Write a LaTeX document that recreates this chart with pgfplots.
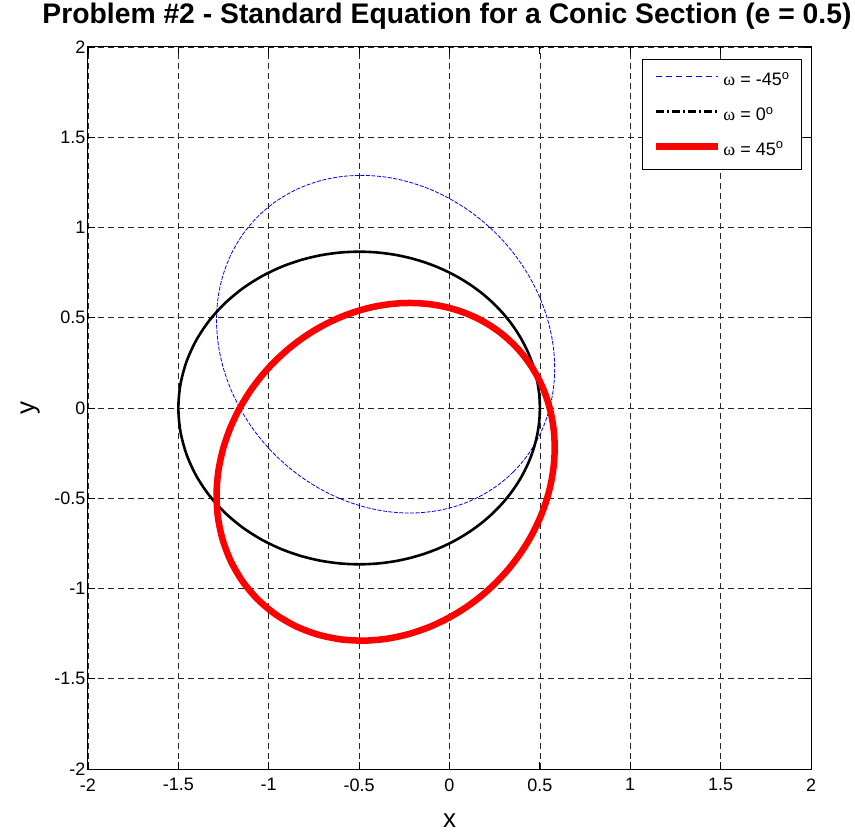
\documentclass[border=0pt]{standalone}
\usepackage{pgfplots}
\pgfplotsset{compat=1.18}
\usepackage{pgfplotstable}
\usepackage{fontspec}
\setmainfont{Liberation Sans}
\newfontfamily\greekserif{Liberation Serif}

% r = 0.75/(1 + 0.5 cos(theta)), sampled every 5 degrees
\pgfplotstableread{
x y
0.5 0
0.49873 0.043633
0.49491 0.087266
0.488511 0.130896
0.479485 0.174518
0.467763 0.218121
0.453254 0.261687
0.43585 0.305185
0.415419 0.348578
0.391806 0.391806
0.364835 0.434793
0.334307 0.47744
0.3 0.519615
0.261671 0.561154
0.219055 0.601848
0.171873 0.641437
0.119832 0.679601
0.062637 0.715946
0 0.75
-0.068346 0.781189
-0.142618 0.808832
-0.222968 0.832131
-0.309431 0.850155
-0.401886 0.861848
-0.5 0.866025
-0.603162 0.861405
-0.710414 0.846637
-0.820379 0.820379
-0.931205 0.781375
-1.040547 0.728599
-1.145561 0.66139
-1.243002 0.579621
-1.32937 0.483851
-1.401146 0.375436
-1.455106 0.256574
-1.488629 0.130239
-1.5 0
-1.488629 -0.130239
-1.455106 -0.256574
-1.401146 -0.375436
-1.32937 -0.483851
-1.243002 -0.579621
-1.145561 -0.66139
-1.040547 -0.728599
-0.931205 -0.781375
-0.820379 -0.820379
-0.710414 -0.846637
-0.603162 -0.861405
-0.5 -0.866025
-0.401886 -0.861848
-0.309431 -0.850155
-0.222968 -0.832131
-0.142618 -0.808832
-0.068346 -0.781189
0 -0.75
0.062637 -0.715946
0.119832 -0.679601
0.171873 -0.641437
0.219055 -0.601848
0.261671 -0.561154
0.3 -0.519615
0.334307 -0.47744
0.364835 -0.434793
0.391806 -0.391806
0.415419 -0.348578
0.43585 -0.305185
0.453254 -0.261687
0.467763 -0.218121
0.479485 -0.174518
0.488511 -0.130896
0.49491 -0.087266
0.49873 -0.043633
0.5 0
}\conicZero

% rotated by +45 degrees
\pgfplotstableread{
x y
0.353553 0.353553
0.321802 0.383509
0.288248 0.411661
0.252872 0.437987
0.215644 0.462451
0.176524 0.484994
0.135458 0.50554
0.092394 0.523991
0.047264 0.540228
0 0.554098
-0.049468 0.565423
-0.10121 0.573992
-0.155291 0.579556
-0.211766 0.581826
-0.270676 0.580467
-0.332032 0.575098
-0.395817 0.565285
-0.46196 0.550542
-0.53033 0.53033
-0.600712 0.504057
-0.672777 0.471085
-0.746068 0.430744
-0.819951 0.38235
-0.893595 0.325242
-0.965926 0.258819
-1.035606 0.182606
-1.101002 0.096324
-1.160191 0
-1.210977 -0.105946
-1.250975 -0.22058
-1.277708 -0.34236
-1.288789 -0.469082
-1.282141 -0.597873
-1.256234 -0.725287
-1.210341 -0.84749
-1.144713 -0.960528
-1.06066 -1.06066
-0.960528 -1.144713
-0.84749 -1.210341
-0.725287 -1.256234
-0.597873 -1.282141
-0.469082 -1.288789
-0.34236 -1.277708
-0.22058 -1.250975
-0.105946 -1.210977
0 -1.160191
0.096324 -1.101002
0.182606 -1.035606
0.258819 -0.965926
0.325242 -0.893595
0.38235 -0.819951
0.430744 -0.746068
0.471085 -0.672777
0.504057 -0.600712
0.53033 -0.53033
0.550542 -0.46196
0.565285 -0.395817
0.575098 -0.332032
0.580467 -0.270676
0.581826 -0.211766
0.579556 -0.155291
0.573992 -0.10121
0.565423 -0.049468
0.554098 0
0.540228 0.047264
0.523991 0.092394
0.50554 0.135458
0.484994 0.176524
0.462451 0.215644
0.437987 0.252872
0.411661 0.288248
0.383509 0.321802
0.353553 0.353553
}\conicPlus

% rotated by -45 degrees
\pgfplotstableread{
x y
0.353553 -0.353553
0.321802 -0.383509
0.288248 -0.411661
0.252872 -0.437987
0.215644 -0.462451
0.176524 -0.484994
0.135458 -0.50554
0.092394 -0.523991
0.047264 -0.540228
0 -0.554098
-0.049468 -0.565423
-0.10121 -0.573992
-0.155291 -0.579556
-0.211766 -0.581826
-0.270676 -0.580467
-0.332032 -0.575098
-0.395817 -0.565285
-0.46196 -0.550542
-0.53033 -0.53033
-0.600712 -0.504057
-0.672777 -0.471085
-0.746068 -0.430744
-0.819951 -0.38235
-0.893595 -0.325242
-0.965926 -0.258819
-1.035606 -0.182606
-1.101002 -0.096324
-1.160191 0
-1.210977 0.105946
-1.250975 0.22058
-1.277708 0.34236
-1.288789 0.469082
-1.282141 0.597873
-1.256234 0.725287
-1.210341 0.84749
-1.144713 0.960528
-1.06066 1.06066
-0.960528 1.144713
-0.84749 1.210341
-0.725287 1.256234
-0.597873 1.282141
-0.469082 1.288789
-0.34236 1.277708
-0.22058 1.250975
-0.105946 1.210977
0 1.160191
0.096324 1.101002
0.182606 1.035606
0.258819 0.965926
0.325242 0.893595
0.38235 0.819951
0.430744 0.746068
0.471085 0.672777
0.504057 0.600712
0.53033 0.53033
0.550542 0.46196
0.565285 0.395817
0.575098 0.332032
0.580467 0.270676
0.581826 0.211766
0.579556 0.155291
0.573992 0.10121
0.565423 0.049468
0.554098 0
0.540228 -0.047264
0.523991 -0.092394
0.50554 -0.135458
0.484994 -0.176524
0.462451 -0.215644
0.437987 -0.252872
0.411661 -0.288248
0.383509 -0.321802
0.353553 -0.353553
}\conicMinus

\begin{document}
\begin{tikzpicture}
\begin{axis}[
  at={(0,0)}, anchor=south west,
  scale only axis, width=723bp, height=722bp,
  xmin=-2, xmax=2, ymin=-2, ymax=2,
  xtick={-2,-1.5,-1,-0.5,0,0.5,1,1.5,2},
  ytick={-2,-1.5,-1,-0.5,0,0.5,1,1.5,2},
  xticklabels={-2,-1.5,-1,-0.5,0,0.5,1,1.5,2},
  yticklabels={-2,-1.5,-1,-0.5,0,0.5,1,1.5,2},
  grid=major,
  grid style={black!85, line width=0.7bp, dash pattern=on 6bp off 4bp},
  axis line style={black, line width=1bp},
  tick align=inside, major tick length=7bp,
  tick style={black, line width=0.8bp},
  tick label style={font=\fontsize{18bp}{21bp}\selectfont},
  xticklabel style={yshift=-6bp},
  yticklabel style={xshift=1bp},
  xlabel={x}, ylabel={y},
  xlabel style={at={(axis description cs:0.5,-0.071)}, anchor=center, font=\fontsize{26bp}{30bp}\selectfont},
  ylabel style={at={(axis description cs:-0.080,0.5)}, anchor=center, font=\fontsize{26bp}{30bp}\selectfont},
  title={Problem \#2 - Standard Equation for a Conic Section (e = 0.5)},
  title style={at={(axis description cs:0.4965,1.0346)}, anchor=center, font=\bfseries\fontsize{28.3bp}{33bp}\selectfont},
  legend style={at={(rel axis cs:0.9876,0.9834)}, anchor=north east,
    draw=black, line width=1bp, fill=white,
    inner xsep=10bp, inner ysep=11bp, row sep=16bp,
    nodes={inner sep=2bp, font=\fontsize{18bp}{21bp}\selectfont}},
  legend cell align=left,
  legend image code/.code={\draw[#1] (0bp,3bp) -- (62bp,3bp);},
]
\addplot[blue, line width=0.8bp, dash pattern=on 4bp off 1.5bp, smooth, forget plot] table {\conicMinus};
\addplot[black, line width=2.6bp, smooth, forget plot] table {\conicZero};
\addplot[red, line width=6.5bp, smooth, forget plot] table {\conicPlus};

\addlegendimage{color=blue, line width=0.8bp, dash pattern=on 6bp off 4bp}
\addlegendentry{{\greekserif ω} = -45\textsuperscript{\fontsize{13bp}{13bp}\selectfont o}\hspace{14bp}}
\addlegendimage{color=black, line width=2.5bp, dash pattern=on 8bp off 3bp on 2bp off 3bp}
\addlegendentry{{\greekserif ω} = 0\textsuperscript{\fontsize{13bp}{13bp}\selectfont o}}
\addlegendimage{color=red, line width=6.5bp}
\addlegendentry{{\greekserif ω} = 45\textsuperscript{\fontsize{13bp}{13bp}\selectfont o}}
\end{axis}
\pgfresetboundingbox
\path (-88bp,-64bp) rectangle (767bp,769bp);
\end{tikzpicture}
\end{document}
